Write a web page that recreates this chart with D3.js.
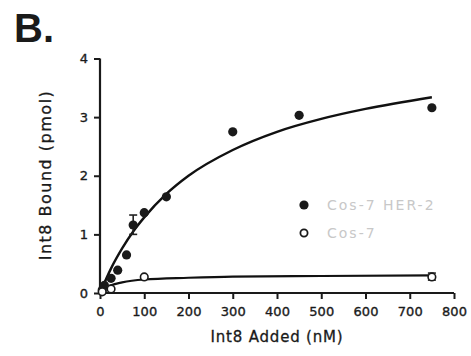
<!DOCTYPE html>
<html>
<head>
<meta charset="utf-8">
<script src="https://cdn.jsdelivr.net/npm/d3@7"></script>
<style>
  html, body { margin: 0; padding: 0; background: #fff; }
  svg { display: block; }
</style>
</head>
<body>
<svg id="chart" width="471" height="356"></svg>
<script>
// Cos-7 HER-2 cells: Int8 added (nM) vs bound (pmol)
const herX = [5, 10, 25, 40, 60, 75, 100, 150, 300, 450, 750];
const herY = [0.05, 0.13, 0.25, 0.39, 0.65, 1.16, 1.37, 1.64, 2.75, 3.03, 3.16];
// error bar on the 75 nM point
const herErrX = [75];
const herErrLo = [1.0];
const herErrHi = [1.33];

// Cos-7 cells
const cosX = [5, 25, 100, 750];
const cosY = [0.02, 0.07, 0.275, 0.275];
const cosErrX = [750];
const cosErrLo = [0.22];
const cosErrHi = [0.34];

// saturation binding fit curves
const herFitX = [0, 25, 50, 75, 100, 150, 200, 300, 400, 500, 600, 750];
const herFitY = [0, 0.42, 0.76, 1.05, 1.29, 1.69, 2.0, 2.44, 2.75, 2.97, 3.14, 3.34];
const cosFitX = [0, 10, 25, 50, 100, 200, 300, 500, 750];
const cosFitY = [0, 0.07, 0.13, 0.18, 0.23, 0.26, 0.28, 0.29, 0.30];

const xTicks = [0, 100, 200, 300, 400, 500, 600, 700, 800];
const yTicks = [0, 1, 2, 3, 4];
const legendLabels = ["Cos-7 HER-2", "Cos-7"];

const svg = d3.select("#chart");
const font = "'DejaVu Sans', sans-serif";

const x = d3.scaleLinear().domain([0, 800]).range([100, 454]);
const y = d3.scaleLinear().domain([0, 4]).range([293, 58.5]);

// panel letter
svg.append("text")
  .attr("x", 14).attr("y", 42)
  .attr("font-family", "'Liberation Sans', Arial, sans-serif")
  .attr("font-weight", "bold").attr("font-size", 40)
  .attr("fill", "#1a1a1a")
  .text("B.");

// axes
const xAxis = svg.append("g")
  .attr("transform", `translate(0,${y(0)})`)
  .call(d3.axisBottom(x).tickValues(xTicks).tickSize(6).tickPadding(8).tickFormat(d3.format("d")));
const yAxis = svg.append("g")
  .attr("transform", `translate(${x(0)},0)`)
  .call(d3.axisLeft(y).tickValues(yTicks).tickSize(6).tickPadding(6).tickFormat(d3.format("d")));

[xAxis, yAxis].forEach(g => {
  g.select(".domain").attr("stroke", "#1a1a1a").attr("stroke-width", 2.2);
  g.selectAll(".tick line").attr("stroke", "#1a1a1a").attr("stroke-width", 2);
  g.selectAll(".tick text")
    .attr("font-family", font).attr("font-size", 13)
    .attr("fill", "#1a1a1a")
    .attr("stroke", "#1a1a1a").attr("stroke-width", 0.35);
});
xAxis.select(".domain").attr("d", `M${x(0)},0H${x(800)}`);
yAxis.select(".domain").attr("d", `M0,${y(4)}V${y(0)}`);

// axis titles
svg.append("text")
  .attr("x", 277).attr("y", 342)
  .attr("text-anchor", "middle")
  .attr("font-family", font).attr("font-size", 15)
  .attr("letter-spacing", 0.8)
  .attr("fill", "#1a1a1a")
  .attr("stroke", "#1a1a1a").attr("stroke-width", 0.3)
  .text("Int8 Added (nM)");

svg.append("text")
  .attr("transform", "translate(51,175) rotate(-90)")
  .attr("text-anchor", "middle")
  .attr("font-family", font).attr("font-size", 16)
  .attr("letter-spacing", 1.5)
  .attr("fill", "#1a1a1a")
  .attr("stroke", "#1a1a1a").attr("stroke-width", 0.3)
  .text("Int8 Bound (pmol)");

// fit curves
const line = d3.line().x(d => x(d[0])).y(d => y(d[1])).curve(d3.curveMonotoneX);
svg.append("path")
  .datum(herFitX.map((v, i) => [v, herFitY[i]]))
  .attr("d", line).attr("fill", "none")
  .attr("stroke", "#111").attr("stroke-width", 2.4);
svg.append("path")
  .datum(cosFitX.map((v, i) => [v, cosFitY[i]]))
  .attr("d", line).attr("fill", "none")
  .attr("stroke", "#111").attr("stroke-width", 2.2);

// error bars
function errorBars(xs, lo, hi) {
  const g = svg.append("g").attr("stroke", "#222").attr("stroke-width", 1.6);
  xs.forEach((v, i) => {
    g.append("line").attr("x1", x(v)).attr("x2", x(v)).attr("y1", y(lo[i])).attr("y2", y(hi[i]));
    g.append("line").attr("x1", x(v) - 4).attr("x2", x(v) + 4).attr("y1", y(lo[i])).attr("y2", y(lo[i]));
    g.append("line").attr("x1", x(v) - 4).attr("x2", x(v) + 4).attr("y1", y(hi[i])).attr("y2", y(hi[i]));
  });
}
errorBars(herErrX, herErrLo, herErrHi);
errorBars(cosErrX, cosErrLo, cosErrHi);

// points
svg.append("g").selectAll("circle")
  .data(herX.map((v, i) => [v, herY[i]]))
  .join("circle")
  .attr("cx", d => x(d[0])).attr("cy", d => y(d[1]))
  .attr("r", 4.6).attr("fill", "#1a1a1a");

svg.append("g").selectAll("circle")
  .data(cosX.map((v, i) => [v, cosY[i]]))
  .join("circle")
  .attr("cx", d => x(d[0])).attr("cy", d => y(d[1]))
  .attr("r", 3.8).attr("fill", "#fff")
  .attr("stroke", "#1a1a1a").attr("stroke-width", 1.6);

// legend
const legend = svg.append("g");
legendLabels.forEach((lab, i) => {
  const cy = 205 + i * 28;
  const c = legend.append("circle").attr("cx", 304).attr("cy", cy);
  if (i === 0) c.attr("r", 4.6).attr("fill", "#1a1a1a");
  else c.attr("r", 3.6).attr("fill", "#fff").attr("stroke", "#1a1a1a").attr("stroke-width", 1.8);
  legend.append("text")
    .attr("x", 327).attr("y", cy + 5)
    .attr("font-family", font).attr("font-size", 14)
    .attr("letter-spacing", 2)
    .attr("fill", "#c8c8c8")
    .text(lab);
});
</script>
</body>
</html>
